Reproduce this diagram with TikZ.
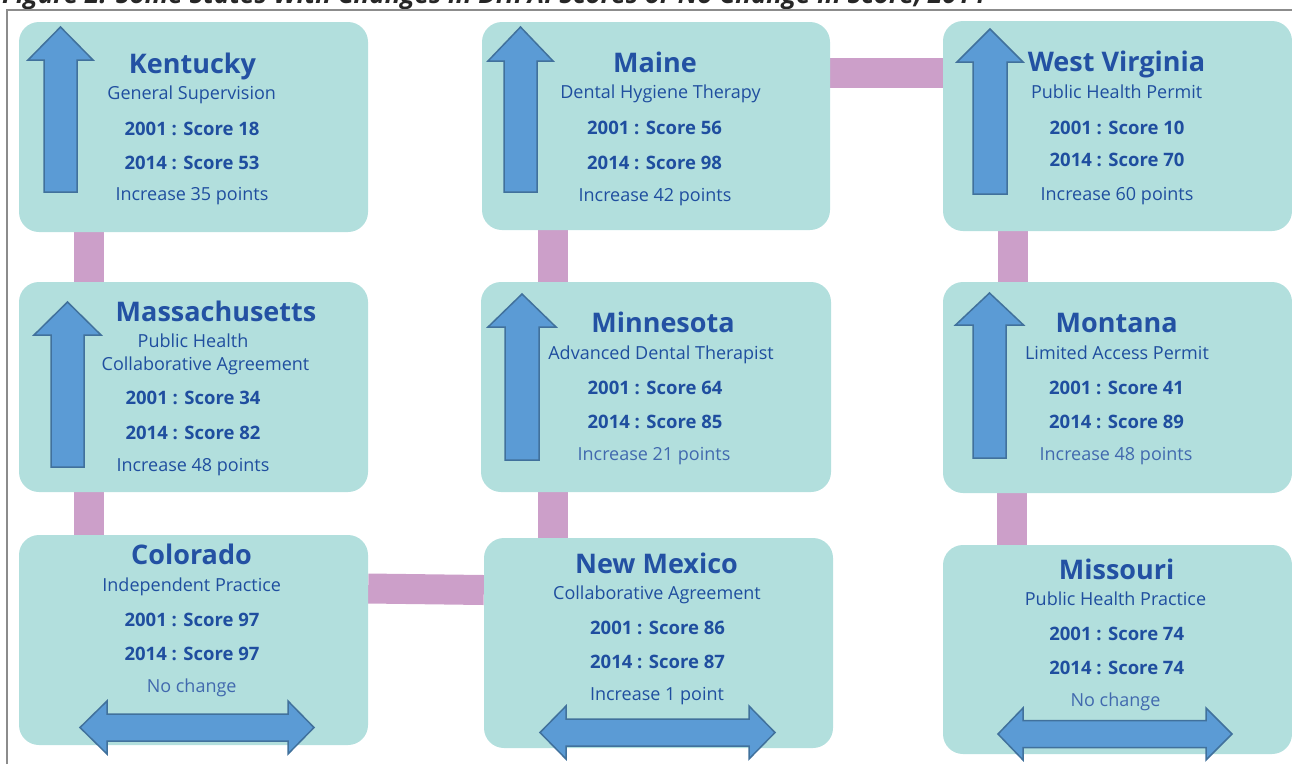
\documentclass[tikz,border=0pt]{standalone}
\usepackage{fontspec}
\setmainfont{Open Sans}
\usetikzlibrary{calc,backgrounds}
\definecolor{boxfill}{HTML}{B2DFDD}
\definecolor{pinkc}{HTML}{CC9FC9}
\definecolor{arrfill}{HTML}{5B9BD5}
\definecolor{arrdraw}{HTML}{41719C}
\definecolor{txt}{HTML}{1F4E9F}
\definecolor{txtt}{HTML}{2351A3}
\definecolor{txtl}{HTML}{4169AE}
\definecolor{framec}{HTML}{8C8C8C}
\newcommand\UpArr[6]{%
 \draw[bigarrow] (#1,#2) -- (#1+#6,#3) -- (#1+#5,#3) -- (#1+#5,#4) -- (#1-#5,#4) -- (#1-#5,#3) -- (#1-#6,#3) -- cycle;}
\newcommand\LRArr[7]{%
 \draw[bigarrow] (#1,#5) -- (#3,#5-#7) -- (#3,#5-#6) -- (#4,#5-#6) -- (#4,#5-#7) -- (#2,#5) -- (#4,#5+#7) -- (#4,#5+#6) -- (#3,#5+#6) -- (#3,#5+#7) -- cycle;}
\begin{document}
\begin{tikzpicture}[x=1pt,y=-1pt,
 sbox/.style={fill=boxfill, rounded corners=20pt, inner sep=0pt, draw=none},
 conn/.style={pinkc, line width=30pt},
 stname/.style={anchor=base, text=txtt, font=\bfseries\fontsize{27}{30}\selectfont, inner sep=0pt},
 sttype/.style={anchor=base, text=txt, font=\fontsize{18}{20}\selectfont, inner sep=0pt},
 score/.style={anchor=base, text=txt, font=\bfseries\fontsize{18.5}{20}\selectfont, inner sep=0pt},
 change/.style={anchor=base, text=txt, font=\fontsize{18}{20}\selectfont, inner sep=0pt},
 lightchange/.style={change, text=txtl},
 bigarrow/.style={fill=arrfill, draw=arrdraw, line width=1.5pt, line join=miter}]
\useasboundingbox (0,0) rectangle (1292,764);
\node[anchor=base west, inner sep=0pt, font=\bfseries\itshape\fontsize{26}{28}\selectfont, text=black!85] (fig) at (2,3.5) {Figure 2: Some States With Changes in DHPAI Scores or No Change in Score, 2014};
\draw[framec, line width=2pt] (7,764) -- (7,9.5) -- (1292,9.5);

% boxes
\node[sbox, minimum width=349, minimum height=210] (ky) at (193.5,127) {};
\node[sbox, minimum width=349, minimum height=210] (ma) at (193.5,387) {};
\node[sbox, minimum width=349, minimum height=210] (co) at (193.5,640) {};
\node[sbox, minimum width=348, minimum height=208] (me) at (656,126) {};
\node[sbox, minimum width=350, minimum height=210] (mn) at (656,387) {};
\node[sbox, minimum width=349, minimum height=210] (nm) at (658.5,643) {};
\node[sbox, minimum width=349, minimum height=210] (wv) at (1117.5,126) {};
\node[sbox, minimum width=349, minimum height=211] (mt) at (1117.5,387.5) {};
\node[sbox, minimum width=349, minimum height=209] (mo) at (1117.5,649.5) {};

% connectors
\begin{scope}[on background layer]
\draw[conn] ($(ky.south west)+(70.5,0)$) -- ($(ma.north west)+(70.5,0)$);
\draw[conn] ($(ma.south west)+(70.5,0)$) -- ($(co.north west)+(70.5,0)$);
\draw[conn] ($(co.east)+(0,-51.5)$) -- ($(nm.west)+(0,-53)$);
\draw[conn] ($(me.south west)+(71,0)$) -- ($(mn.north west)+(72,0)$);
\draw[conn] ($(mn.south west)+(72.5,0)$) -- ($(nm.north west)+(69.5,0)$);
\draw[conn] ($(me.east)+(0,-53.5)$) -- ($(wv.west)+(0,-53.5)$);
\draw[conn] ($(wv.south west)+(70.5,0)$) -- ($(mt.north west)+(70.5,0)$);
\draw[conn] ($(mt.south west)+(69.5,0)$) -- ($(mo.north west)+(69.5,0)$);
\end{scope}

% arrows
\UpArr{60.5}{27}{60}{192}{16.5}{32.5}
\UpArr{67.5}{302}{335}{467}{16.5}{33.5}
\UpArr{520.5}{27}{61}{192}{16.5}{32.5}
\UpArr{522}{294}{327}{460}{17}{34}
\UpArr{990}{29}{62}{194}{17}{33}
\UpArr{989.5}{293}{325}{458}{16.5}{34}
\LRArr{80}{314}{107}{288}{727.5}{13.5}{26.5}
\LRArr{540}{775}{566}{749}{732.5}{13.5}{26.5}
\LRArr{998}{1232}{1023}{1206}{734}{13.5}{26}

% Kentucky
\node[stname] (kyT) at (192.5,73.3) {Kentucky};
\node[sttype] (kyS) at (191.7,99.3) {General Supervision};
\node[score] (ky1) at (192,135) {2001 : Score 18};
\node[score] (ky2) at (192,169) {2014 : Score 53};
\node[change] (kyC) at (192,200) {Increase 35 points};
% Massachusetts
\node[stname] (maT) at (216,321.7) {Massachusetts};
\node[sttype] (maS1) at (193,347) {Public Health};
\node[sttype] (maS2) at (205.5,370) {Collaborative Agreement};
\node[score] (ma1) at (193,404) {2001 : Score 34};
\node[score] (ma2) at (193,439) {2014 : Score 82};
\node[change] (maC) at (193,471.7) {Increase 48 points};
% Colorado
\node[stname] (coT) at (191.5,564) {Colorado};
\node[sttype] (coS) at (191.7,591.7) {Independent Practice};
\node[score] (co1) at (192,626) {2001 : Score 97};
\node[score] (co2) at (192,660) {2014 : Score 97};
\node[lightchange] (coC) at (191.7,692) {No change};
% Maine
\node[stname] (meT) at (655,72) {Maine};
\node[sttype] (meS) at (660.5,98.5) {Dental Hygiene Therapy};
\node[score] (me1) at (654.5,134.5) {2001 : Score 56};
\node[score] (me2) at (654.5,169.5) {2014 : Score 98};
\node[change] (meC) at (655,201) {Increase 42 points};
% Minnesota
\node[stname] (mnT) at (663,332.7) {Minnesota};
\node[sttype] (mnS) at (661,359) {Advanced Dental Therapist};
\node[score] (mn1) at (655,394) {2001 : Score 64};
\node[score] (mn2) at (655,428) {2014 : Score 85};
\node[lightchange] (mnC) at (654,460) {Increase 21 points};
% New Mexico
\node[stname] (nmT) at (656.5,573) {New Mexico};
\node[sttype] (nmS) at (657,599) {Collaborative Agreement};
\node[score] (nm1) at (657.5,634) {2001 : Score 86};
\node[score] (nm2) at (657.5,668) {2014 : Score 87};
\node[change] (nmC) at (657,700) {Increase 1 point};
% West Virginia
\node[stname] (wvT) at (1116.5,71.7) {West Virginia};
\node[sttype] (wvS) at (1116.7,98.3) {Public Health Permit};
\node[score] (wv1) at (1117,134) {2001 : Score 10};
\node[score] (wv2) at (1117,166.7) {2014 : Score 70};
\node[change] (wvC) at (1117,200) {Increase 60 points};
% Montana
\node[stname] (mtT) at (1116.7,332.7) {Montana};
\node[sttype] (mtS) at (1117,359.3) {Limited Access Permit};
\node[score] (mt1) at (1116.5,394) {2001 : Score 41};
\node[score] (mt2) at (1116.5,428) {2014 : Score 89};
\node[lightchange] (mtC) at (1116,460.7) {Increase 48 points};
% Missouri
\node[stname] (moT) at (1116.7,579) {Missouri};
\node[sttype] (moS) at (1115.5,605) {Public Health Practice};
\node[score] (mo1) at (1116.7,640.7) {2001 : Score 74};
\node[score] (mo2) at (1116.7,674) {2014 : Score 74};
\node[lightchange] (moC) at (1115.5,706.7) {No change};
\end{tikzpicture}
\end{document}
